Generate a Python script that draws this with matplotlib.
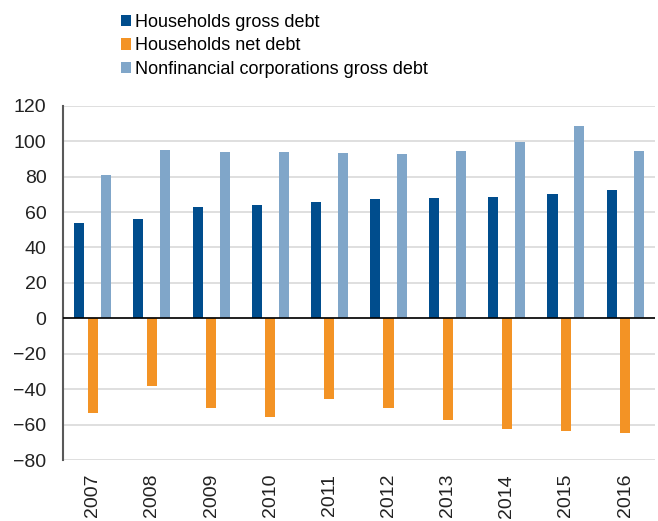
import matplotlib
matplotlib.use("Agg")
import matplotlib.pyplot as plt
import numpy as np
from matplotlib.patches import Patch

years = ["2007", "2008", "2009", "2010", "2011", "2012", "2013", "2014", "2015", "2016"]
hh_gross = [54.0, 56.1, 62.7, 64.2, 65.5, 67.2, 67.8, 68.4, 70.1, 72.3]
hh_net = [-53.3, -38.1, -50.4, -55.5, -45.3, -50.4, -57.6, -62.2, -63.5, -65.0]
nfc_gross = [80.8, 95.3, 94.0, 94.0, 93.2, 92.5, 94.5, 99.8, 108.5, 94.5]
labels = ["Households gross debt", "Households net debt", "Nonfinancial corporations gross debt"]
colors = ["#004D8D", "#F39325", "#80A6C9"]

plt.rcParams['font.family'] = ['Liberation Sans', 'DejaVu Sans']

fig = plt.figure(figsize=(6.58, 5.21), dpi=100)
ax = fig.add_axes([0.096, 0.117, 0.899, 0.680])

x = np.arange(len(years))
w = 0.17
sp = 0.228
for vals, col, off in zip([hh_gross, hh_net, nfc_gross], colors, [-sp, 0, sp]):
    ax.bar(x + off, vals, width=w, color=col, zorder=3)

ax.set_xlim(-0.5, len(years) - 0.5)
ax.set_ylim(-80, 120)
ax.set_yticks(np.arange(-80, 121, 20))
ax.yaxis.grid(True, color="#D9D9D9", linewidth=1.2, zorder=0)
ax.axhline(0, color="black", linewidth=1.2, zorder=4)
ax.set_xticks(x)
ax.set_xticklabels(years, rotation=90, fontsize=14, color="#222222")
ax.tick_params(axis='y', labelsize=14, colors="#222222", length=0, pad=12)
ax.tick_params(axis='x', length=0, pad=10)
for s in ["top", "right", "bottom"]:
    ax.spines[s].set_visible(False)
ax.spines["left"].set_color("#595959")
ax.spines["left"].set_linewidth(1.5)

handles = [Patch(facecolor=c, edgecolor='none') for c in colors]
fig.legend(handles, labels, loc="upper left", bbox_to_anchor=(0.164, 0.998),
           frameon=False, fontsize=13, handlelength=0.6, handleheight=0.6,
           handletextpad=0.2, labelspacing=0.36, borderaxespad=0.3)

fig.savefig("out.png", dpi=100)
